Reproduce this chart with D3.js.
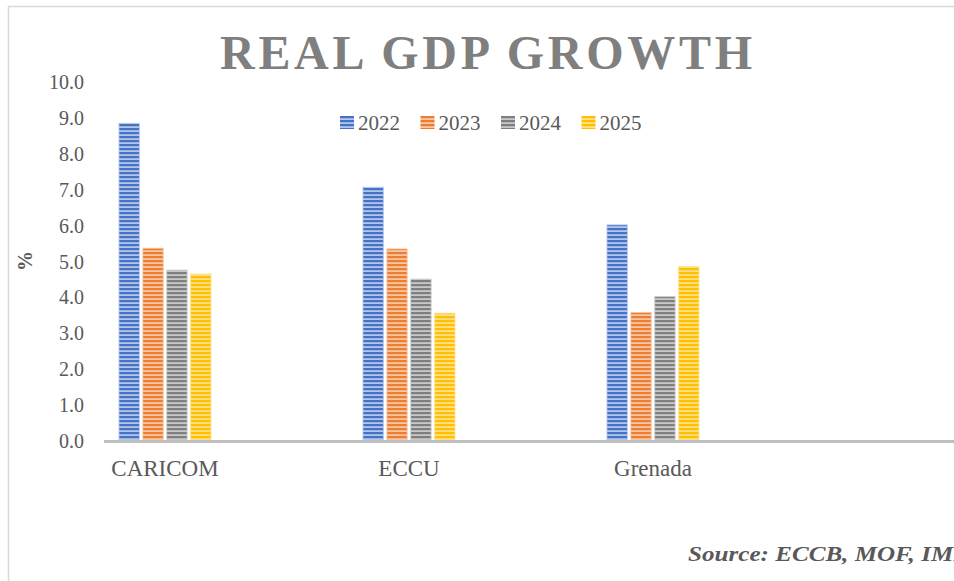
<!DOCTYPE html>
<html>
<head>
<meta charset="utf-8">
<script src="https://cdn.jsdelivr.net/npm/d3@7"></script>
<style>
  html, body { margin: 0; padding: 0; background: #fff; }
  svg { display: block; }
  text { font-family: "Liberation Serif", "DejaVu Serif", serif; }
</style>
</head>
<body>
<svg id="chart" width="954" height="581"></svg>
<script>
const categories = ["CARICOM", "ECCU", "Grenada"];
const years = ["2022", "2023", "2024", "2025"];
const values2022 = [8.85, 7.07, 6.02];
const values2023 = [5.37, 5.35, 3.58];
const values2024 = [4.76, 4.51, 4.02];
const values2025 = [4.65, 3.56, 4.86];
const yTicks = [0, 1, 2, 3, 4, 5, 6, 7, 8, 9, 10];
const seriesValues = [values2022, values2023, values2024, values2025];
const darkColors = ["#4472C4", "#ED7D31", "#7f7f7f", "#FFC000"];
const lightColors = ["#b3c6ea", "#f7c6a3", "#c8c8c8", "#ffe08a"];

const svg = d3.select("#chart");
const W = 954, H = 581;

// frame
svg.append("rect").attr("x", 8.5).attr("y", 6.5).attr("width", 960).attr("height", 600)
  .attr("fill", "#fff").attr("stroke", "#d9d9d9").attr("stroke-width", 1.5);

// patterns
const defs = svg.append("defs");
years.forEach((yr, i) => {
  const p = defs.append("pattern").attr("id", "pat" + i)
    .attr("patternUnits", "userSpaceOnUse").attr("width", 8).attr("height", 4);
  p.append("rect").attr("width", 8).attr("height", 4).attr("fill", lightColors[i]);
  p.append("rect").attr("width", 8).attr("height", 2.2).attr("fill", darkColors[i]);
});

const y = d3.scaleLinear().domain([0, 10]).range([441, 82]);
const x0 = d3.scaleBand().domain(categories).range([43, 775]).padding(0);
const x1 = d3.scaleBand().domain(years).range([-46, 46]).paddingInner(0.15).paddingOuter(0);

// title
svg.append("text").attr("x", 220).attr("y", 69)
  .attr("textLength", 532).attr("lengthAdjust", "spacing")
  .attr("font-size", 48).attr("font-weight", "bold").attr("fill", "#7f7f7f")
  .text("REAL GDP GROWTH");

// y tick labels
svg.append("g").selectAll("text").data(yTicks).join("text")
  .attr("x", 84).attr("y", d => y(d)).attr("dy", "0.35em")
  .attr("text-anchor", "end").attr("font-size", 20).attr("fill", "#595959")
  .text(d => d3.format(".1f")(d));

// y axis title
svg.append("text").attr("transform", "translate(32,261) rotate(-90)")
  .attr("text-anchor", "middle").attr("font-size", 20).attr("font-weight", "bold")
  .attr("fill", "#595959").text("%");

// bars
const groups = svg.append("g").selectAll("g").data(categories).join("g")
  .attr("transform", d => `translate(${x0(d) + x0.bandwidth() / 2},0)`);
groups.each(function(cat, ci) {
  d3.select(this).selectAll("rect").data(years).join("rect")
    .attr("x", yr => x1(yr))
    .attr("width", x1.bandwidth())
    .attr("y", (yr, si) => y(seriesValues[si][ci]))
    .attr("height", (yr, si) => y(0) - y(seriesValues[si][ci]))
    .attr("fill", (yr, si) => `url(#pat${si})`)
    .attr("stroke", (yr, si) => lightColors[si]).attr("stroke-width", 0.8);
});

// x axis line
svg.append("line").attr("x1", 104).attr("x2", W).attr("y1", y(0) + 0.5).attr("y2", y(0) + 0.5)
  .attr("stroke", "#bfbfbf").attr("stroke-width", 3);

// category labels
svg.append("g").selectAll("text").data(categories).join("text")
  .attr("x", d => x0(d) + x0.bandwidth() / 2).attr("y", 476)
  .attr("text-anchor", "middle").attr("font-size", 23).attr("fill", "#595959")
  .text(d => d);

// legend
const lg = svg.append("g").selectAll("g").data(years).join("g")
  .attr("transform", (d, i) => `translate(${340 + i * 80.5},116)`);
lg.append("rect").attr("width", 14).attr("height", 13)
  .attr("fill", (d, i) => `url(#pat${i})`);
lg.append("text").attr("x", 18).attr("y", 14).attr("font-size", 21)
  .attr("fill", "#595959").text(d => d);

// source
svg.append("text").attr("x", 688).attr("y", 561)
  .attr("textLength", 282).attr("lengthAdjust", "spacingAndGlyphs")
  .attr("font-size", 22).attr("font-weight", "bold").attr("font-style", "italic")
  .attr("fill", "#595959").text("Source: ECCB, MOF, IMF");
</script>
</body>
</html>
